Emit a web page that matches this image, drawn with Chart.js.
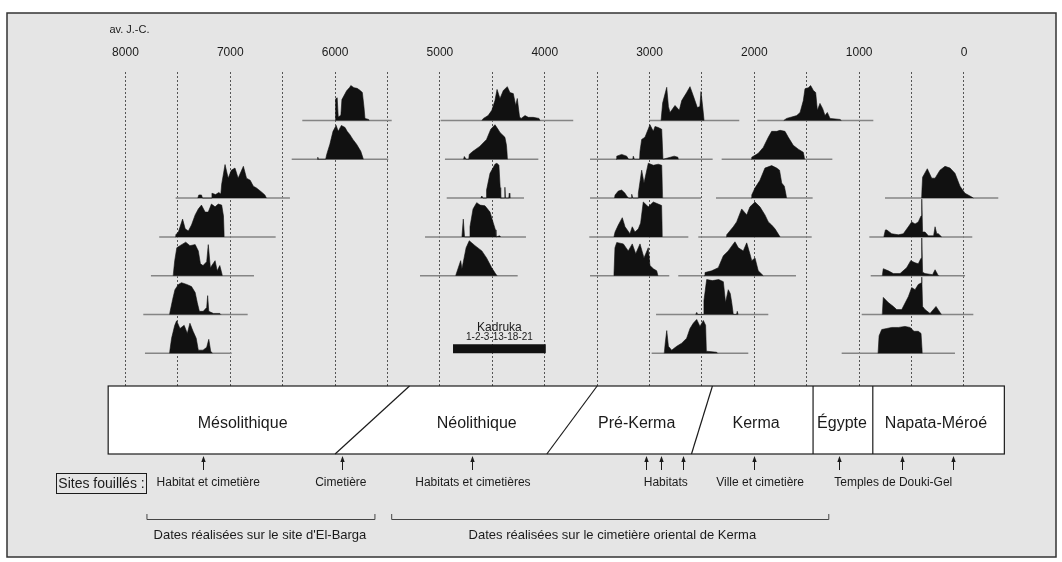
<!DOCTYPE html>
<html>
<head>
<meta charset="utf-8">
<script src="https://cdn.jsdelivr.net/npm/chart.js@4.4.1/dist/chart.umd.min.js"></script>
<style>
  html, body { margin: 0; padding: 0; background: #fff; }
  #wrap { width: 1062px; height: 562px; }
</style>
</head>
<body>
<div id="wrap"><canvas id="chart"></canvas></div>
<script>
// years BC, the axis runs from 8000 down to 0
const gridYears = [8000, 7500, 7000, 6500, 6000, 5500, 5000, 4500, 4000, 3500, 3000, 2500, 2000, 1500, 1000, 500, 0];

// calibrated dates : [year BC, relative probability %]
// El-Barga, cemetery
const bargaC1 = [[6000,0],[5995,62],[5980,65],[5970,10],[5945,15],[5935,60],[5890,85],[5860,95],[5850,100],[5820,94],[5790,92],[5760,86],[5740,80],[5725,40],[5715,6],[5680,3],[5675,0]];
const bargaC2 = [[6170,0],[6165,6],[6160,0],[6090,0],[6080,14],[6050,43],[6020,80],[5990,97],[5970,80],[5940,97],[5905,91],[5885,80],[5860,71],[5830,57],[5795,43],[5755,23],[5730,0]];
// El-Barga, mesolithic settlement and cemetery
const bargaH1 = [[7310,0],[7300,9],[7275,9],[7265,0],[7180,0],[7175,14],[7140,10],[7110,16],[7090,12],[7082,40],[7050,96],[7020,57],[6990,80],[6955,86],[6925,57],[6875,91],[6845,57],[6810,51],[6780,34],[6750,29],[6700,17],[6670,9],[6655,0]];
const bargaH2 = [[7525,0],[7520,6],[7495,14],[7455,51],[7430,23],[7400,17],[7370,34],[7335,63],[7305,80],[7275,91],[7240,71],[7210,71],[7180,94],[7145,86],[7115,94],[7082,91],[7065,60],[7058,0]];
const bargaH3 = [[7545,0],[7530,43],[7510,80],[7480,86],[7425,96],[7385,86],[7335,89],[7305,71],[7285,34],[7260,29],[7225,40],[7210,89],[7190,23],[7145,43],[7125,14],[7100,29],[7075,0]];
const bargaH4 = [[7580,0],[7550,43],[7528,71],[7495,86],[7465,91],[7415,86],[7370,80],[7335,63],[7315,34],[7295,9],[7258,9],[7225,20],[7216,54],[7205,9],[7160,3],[7100,3],[7090,0]];
const bargaH5 = [[7580,0],[7560,43],[7530,80],[7512,93],[7480,71],[7440,80],[7410,57],[7385,86],[7355,63],[7325,43],[7305,9],[7260,9],[7225,17],[7205,40],[7187,6],[7170,0]];
// neolithic
const neo1 = [[4600,0],[4585,6],[4540,14],[4505,29],[4475,57],[4455,89],[4427,63],[4395,86],[4357,97],[4332,80],[4300,77],[4277,43],[4262,63],[4240,10],[4225,6],[4188,14],[4157,9],[4110,9],[4055,6],[4045,0]];
const neo2 = [[4775,0],[4767,8],[4750,0],[4725,0],[4720,14],[4685,23],[4620,37],[4555,57],[4515,86],[4475,99],[4450,88],[4427,77],[4380,63],[4365,40],[4355,0]];
const neo3 = [[4610,0],[4600,6],[4590,0],[4560,0],[4555,23],[4522,71],[4494,86],[4475,97],[4456,100],[4437,94],[4425,30],[4420,0],[4385,0],[4380,31],[4375,0],[4343,0],[4338,14],[4333,0]];
const neo4 = [[4790,0],[4777,51],[4765,0],[4720,0],[4713,29],[4684,80],[4649,98],[4617,91],[4570,89],[4522,71],[4494,43],[4470,20],[4465,0],[4430,3],[4420,0]];
const neo5 = [[4850,0],[4802,43],[4790,20],[4783,30],[4750,80],[4720,100],[4665,86],[4600,71],[4555,51],[4506,23],[4470,6],[4455,0]];
// pre-Kerma
const preK1 = [[2890,0],[2875,50],[2836,95],[2820,40],[2805,23],[2757,43],[2716,29],[2693,57],[2646,80],[2614,97],[2583,71],[2544,37],[2520,40],[2509,83],[2490,30],[2480,0]];
const preK2 = [[3320,0],[3313,9],[3266,14],[3218,9],[3200,0],[3160,0],[3155,9],[3145,0],[3095,0],[3091,23],[3075,57],[3044,63],[2996,99],[2964,80],[2948,94],[2917,91],[2884,86],[2872,0],[2800,6],[2765,9],[2730,6],[2725,0]];
const preK3 = [[3335,0],[3329,9],[3298,20],[3266,23],[3234,14],[3218,6],[3200,0],[3175,0],[3170,11],[3160,0],[3110,0],[3107,14],[3075,80],[3053,43],[3012,100],[2964,94],[2917,97],[2884,94],[2875,0]];
const preK4 = [[3340,0],[3329,14],[3298,34],[3260,55],[3234,29],[3187,9],[3165,29],[3139,14],[3107,23],[3085,40],[3060,100],[3012,86],[2964,100],[2917,94],[2885,90],[2878,0]];
const preK5 = [[3340,0],[3330,80],[3313,95],[3250,91],[3203,71],[3165,91],[3132,63],[3091,91],[3053,51],[3012,80],[2996,29],[2964,20],[2932,14],[2920,0]];
// Kerma
const kerma1 = [[1720,0],[1692,6],[1596,14],[1564,23],[1533,57],[1517,91],[1485,94],[1463,100],[1437,86],[1415,80],[1399,29],[1374,49],[1348,34],[1326,14],[1304,23],[1278,6],[1183,3],[1170,0]];
const kerma2 = [[2030,0],[2025,6],[1963,17],[1915,34],[1867,63],[1835,80],[1787,80],[1755,83],[1708,80],[1676,63],[1629,40],[1581,29],[1533,20],[1520,0]];
const kerma3 = [[2030,0],[2025,9],[1994,29],[1947,51],[1899,86],[1835,93],[1787,86],[1760,80],[1739,43],[1714,34],[1692,0]];
const kerma4 = [[2270,0],[2264,6],[2201,29],[2169,43],[2121,80],[2073,63],[2042,86],[1994,100],[1947,86],[1899,63],[1867,43],[1835,34],[1803,23],[1755,0]];
const kerma5 = [[2480,0],[2471,9],[2407,14],[2344,23],[2296,57],[2249,71],[2201,91],[2185,97],[2153,80],[2106,71],[2073,94],[2040,60],[2025,43],[1994,51],[1963,14],[1915,0]];
const kerma6 = [[2560,0],[2550,6],[2540,0],[2485,0],[2481,40],[2455,100],[2400,97],[2340,100],[2296,94],[2275,34],[2249,71],[2230,60],[2216,34],[2201,0],[2170,0],[2163,9],[2155,0]];
const kerma7 = [[2860,0],[2850,30],[2836,65],[2820,20],[2789,9],[2741,20],[2693,29],[2646,43],[2614,71],[2583,86],[2550,97],[2519,77],[2487,94],[2465,80],[2458,6],[2360,3],[2350,0]];
// Napata-Meroe, temples of Douki-Gel
const napata1 = [[405,0],[395,60],[350,84],[308,57],[276,57],[229,80],[181,91],[133,86],[86,71],[38,34],[-9,14],[-57,6],[-90,0]];
const napata2 = [[765,0],[750,20],[737,20],[690,9],[626,6],[579,9],[531,29],[499,43],[467,37],[436,43],[410,60],[403,108],[395,14],[372,14],[340,3],[290,3],[276,29],[260,9],[245,9],[213,0]];
const napata3 = [[780,0],[770,20],[722,14],[674,6],[610,6],[547,23],[508,43],[467,37],[436,34],[410,50],[403,108],[395,10],[372,6],[300,3],[276,17],[250,3],[240,0]];
const napata4 = [[780,0],[770,49],[722,34],[674,23],[642,14],[594,14],[531,51],[499,77],[467,71],[436,86],[410,90],[403,107],[395,23],[372,14],[324,3],[267,23],[229,6],[215,0]];
const napata5 = [[820,0],[810,50],[785,68],[737,71],[690,74],[626,74],[563,77],[515,74],[477,63],[436,63],[410,57],[398,0]];

// row of each curve and extent of its base line (years)
const series = [
  {pts: bargaC1, row: 0, span: [6313, 5460]},
  {pts: bargaC2, row: 1, span: [6414, 5493]},
  {pts: bargaH1, row: 2, span: [7521, 6431]},
  {pts: bargaH2, row: 3, span: [7678, 6567]},
  {pts: bargaH3, row: 4, span: [7757, 6774]},
  {pts: bargaH4, row: 5, span: [7830, 6834]},
  {pts: bargaH5, row: 6, span: [7814, 6987]},
  {pts: neo1, row: 0, span: [4993, 3728]},
  {pts: neo2, row: 1, span: [4952, 4061]},
  {pts: neo3, row: 2, span: [4935, 4198]},
  {pts: neo4, row: 3, span: [5142, 4179]},
  {pts: neo5, row: 4, span: [5190, 4258]},
  {pts: preK1, row: 0, span: [3005, 2144]},
  {pts: preK2, row: 1, span: [3568, 2398]},
  {pts: preK3, row: 2, span: [3568, 2509]},
  {pts: preK4, row: 3, span: [3575, 2630]},
  {pts: preK5, row: 4, span: [3568, 2812]},
  {pts: kerma1, row: 0, span: [1972, 865]},
  {pts: kerma2, row: 1, span: [2312, 1256]},
  {pts: kerma3, row: 2, span: [2366, 1444]},
  {pts: kerma4, row: 3, span: [2535, 1453]},
  {pts: kerma5, row: 4, span: [2726, 1603]},
  {pts: kerma6, row: 5, span: [2938, 1867]},
  {pts: kerma7, row: 6, span: [2980, 2058]},
  {pts: napata1, row: 2, span: [754, -327]},
  {pts: napata2, row: 3, span: [903, -79]},
  {pts: napata3, row: 4, span: [890, -10]},
  {pts: napata4, row: 5, span: [976, -89]},
  {pts: napata5, row: 6, span: [1167, 86]}
];

const kadruka = [4875, 3990];
const kadrukaRow = 5.88;

// cultural periods: names, label year, boundaries (top / bottom of the band)
const periods = ['Mésolithique', 'Néolithique', 'Pré-Kerma', 'Kerma', 'Égypte', 'Napata-Méroé'];
const periodMid = [6882, 4649, 3123, 1984, 1164, 267];
const bandEnds = [8165, -385];
const limitTop = [5290, 3500, 2400, 1440, 870];
const limitBottom = [6000, 3980, 2600, 1440, 870];

// excavated sites
const siteArrows = [7260, 5930, 4690, 3030, 2890, 2680, 2000, 1190, 590, 105];
const siteNames = ['Habitat et cimetière', 'Cimetière', 'Habitats et cimetières', 'Habitats', 'Ville et cimetière', 'Temples de Douki-Gel'];
const siteNameYears = [7210, 5945, 4685, 2845, 1945, 675];

const brackets = ["Dates réalisées sur le site d'El-Barga", 'Dates réalisées sur le cimetière oriental de Kerma'];
const bracketSpans = [[7795, 5620], [5460, 1290]];
const bracketMid = [6717, 3355];

const FONT = "'Liberation Sans', Arial, sans-serif";
const INK = '#1b1b1b';
const peakRows = 0.9;

const datasets = [];
series.forEach(s => {
  datasets.push({
    data: s.pts.map(([yr, p]) => ({x: yr, y: s.row - p / 100 * peakRows})),
    fill: {value: s.row},
    backgroundColor: '#111',
    borderColor: '#111',
    borderWidth: 0.6,
    pointRadius: 0,
    order: 1
  });
  datasets.push({
    data: [{x: s.span[0], y: s.row}, {x: s.span[1], y: s.row}],
    borderColor: '#858585',
    borderWidth: 1.5,
    pointRadius: 0,
    fill: false,
    order: 2
  });
});
datasets.push({
  data: [{x: kadruka[0], y: kadrukaRow}, {x: kadruka[1], y: kadrukaRow}],
  borderColor: '#111',
  borderWidth: 9,
  borderCapStyle: 'butt',
  pointRadius: 0,
  fill: false,
  order: 0
});

function text(c, str, x, y, size) {
  c.font = size + 'px ' + FONT;
  c.fillText(str, x, y);
}

const decor = {
  id: 'decor',
  beforeDraw(chart) {
    const c = chart.ctx;
    c.save();
    c.fillStyle = '#fff';
    c.fillRect(0, 0, chart.width, chart.height);
    c.fillStyle = '#e5e5e5';
    c.fillRect(7, 13, 1049, 544);
    c.strokeStyle = '#333';
    c.lineWidth = 1.5;
    c.strokeRect(7, 13, 1049, 544);
    c.restore();
  },
  afterDraw(chart) {
    const c = chart.ctx;
    const x = v => chart.scales.x.getPixelForValue(v);
    const y = v => chart.scales.y.getPixelForValue(v);
    c.save();
    c.fillStyle = INK;
    c.strokeStyle = INK;
    c.textAlign = 'center';
    c.textBaseline = 'middle';

    text(c, 'av. J.-C.', x(8000) + 4, 30, 11);

    // Kadruka label
    const kx = x((kadruka[0] + kadruka[1]) / 2);
    const ky = y(kadrukaRow);
    text(c, 'Kadruka', kx, ky - 21, 12);
    text(c, '1-2-3-13-18-21', kx, ky - 11, 10);

    // period band
    const top = 386, bottom = 454;
    c.fillStyle = '#fff';
    c.fillRect(x(bandEnds[0]), top, x(bandEnds[1]) - x(bandEnds[0]), bottom - top);
    c.lineWidth = 1.2;
    c.strokeRect(x(bandEnds[0]), top, x(bandEnds[1]) - x(bandEnds[0]), bottom - top);
    limitTop.forEach((t, i) => {
      c.beginPath();
      c.moveTo(x(t), top);
      c.lineTo(x(limitBottom[i]), bottom);
      c.stroke();
    });
    c.fillStyle = INK;
    periods.forEach((p, i) => text(c, p, x(periodMid[i]), 424, 16));

    // arrows to the excavated sites
    c.lineWidth = 1;
    siteArrows.forEach(v => {
      const px = Math.round(x(v)) + 0.5;
      c.beginPath();
      c.moveTo(px, 470);
      c.lineTo(px, 458);
      c.stroke();
      c.beginPath();
      c.moveTo(px - 2.2, 462);
      c.lineTo(px, 456);
      c.lineTo(px + 2.2, 462);
      c.closePath();
      c.fill();
    });
    siteNames.forEach((s, i) => text(c, s, x(siteNameYears[i]), 483, 12));

    c.lineWidth = 1;
    c.strokeRect(56.5, 473.5, 90, 20);
    text(c, 'Sites fouillés :', 101.5, 484, 14);

    // brackets with the dated series
    c.strokeStyle = '#444';
    brackets.forEach((b, i) => {
      const a = x(bracketSpans[i][0]), e = x(bracketSpans[i][1]);
      c.beginPath();
      c.moveTo(a, 514);
      c.lineTo(a, 519.5);
      c.lineTo(e, 519.5);
      c.lineTo(e, 514);
      c.stroke();
      text(c, b, x(bracketMid[i]), 535, 13);
    });
    c.restore();
  }
};

new Chart(document.getElementById('chart'), {
  type: 'line',
  data: {datasets},
  options: {
    responsive: true,
    maintainAspectRatio: false,
    animation: false,
    layout: {padding: {top: 33.6, bottom: 176, left: 0, right: 0}},
    plugins: {legend: {display: false}, tooltip: {enabled: false}},
    scales: {
      x: {
        type: 'linear',
        position: 'top',
        reverse: true,
        min: -935,
        max: 9197,
        afterBuildTicks: axis => { axis.ticks = gridYears.map(v => ({value: v})); },
        ticks: {
          autoSkip: false,
          maxRotation: 0,
          padding: 12,
          color: INK,
          font: {family: FONT, size: 12},
          callback: v => (v % 1000 === 0 ? String(v) : '')
        },
        grid: {color: '#555', lineWidth: 1, drawTicks: false},
        border: {display: false, dash: [2, 2]}
      },
      y: {display: false, reverse: true, min: -1.25, max: 6.843}
    }
  },
  plugins: [decor]
});
</script>
</body>
</html>
